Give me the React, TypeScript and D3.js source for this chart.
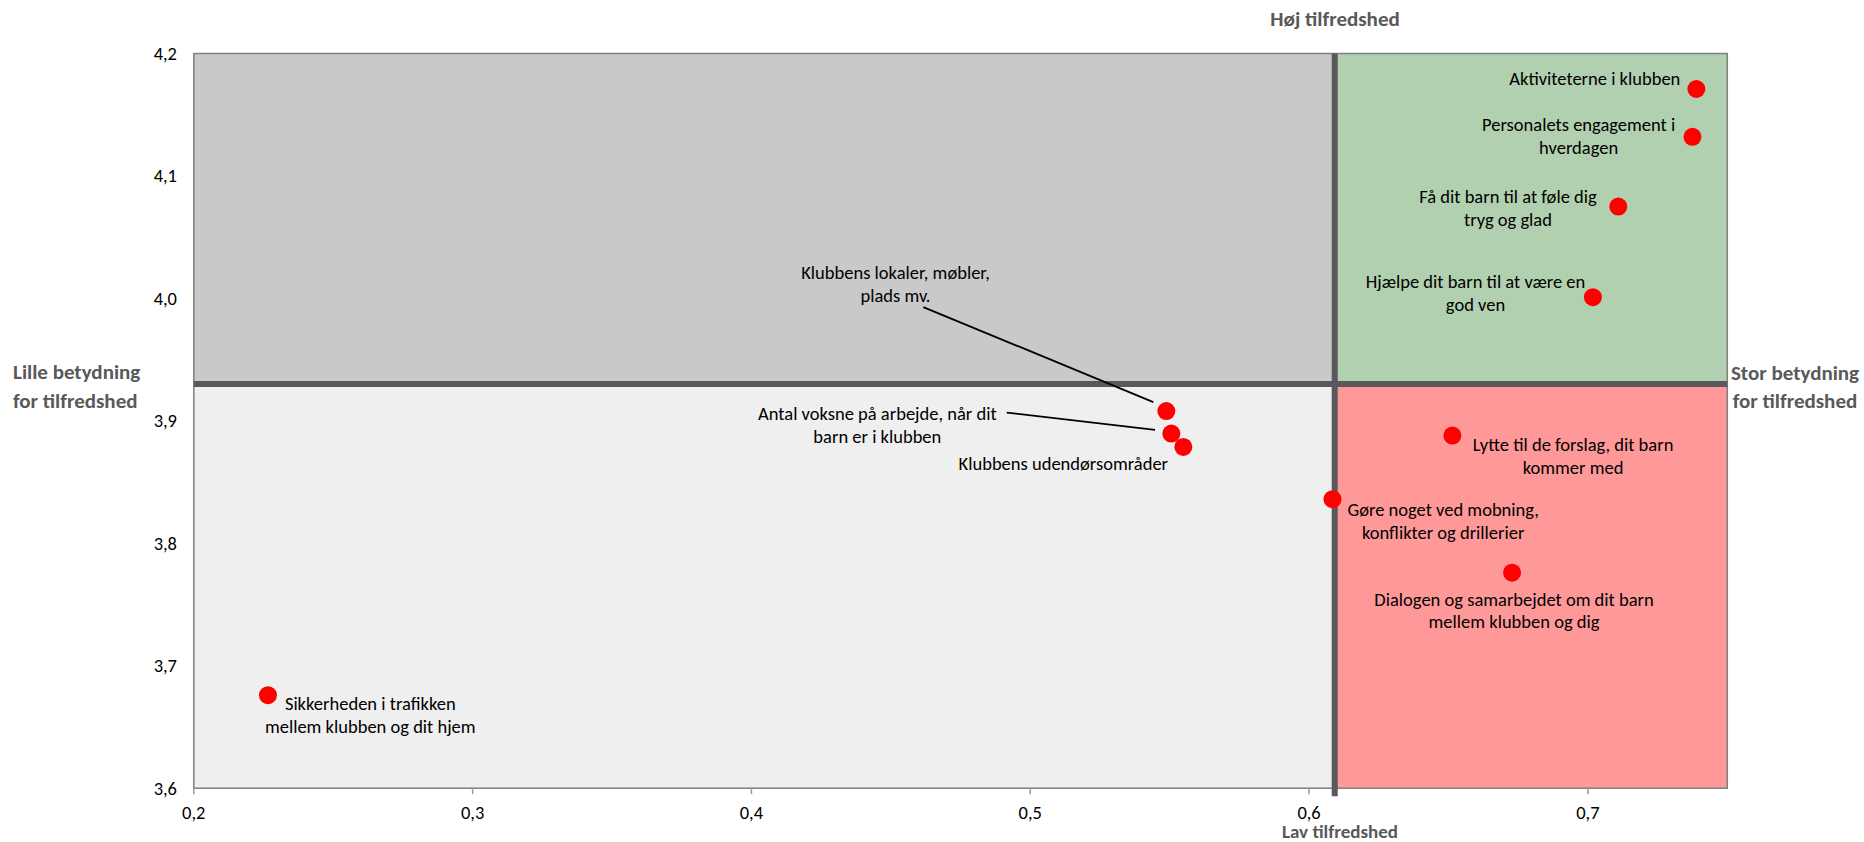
import React from "react";
import * as d3 from "d3";

const labels: string[][] = [
  ["Aktiviteterne i klubben"],
  ["Personalets engagement i", "hverdagen"],
  ["Få dit barn til at føle dig", "tryg og glad"],
  ["Hjælpe dit barn til at være en", "god ven"],
  ["Klubbens lokaler, møbler,", "plads mv."],
  ["Antal voksne på arbejde, når dit", "barn er i klubben"],
  ["Klubbens udendørsområder"],
  ["Lytte til de forslag, dit barn", "kommer med"],
  ["Gøre noget ved mobning,", "konflikter og drillerier"],
  ["Dialogen og samarbejdet om dit barn", "mellem klubben og dig"],
  ["Sikkerheden i trafikken", "mellem klubben og dit hjem"],
];
const importance: number[] = [0.7389, 0.7375, 0.7109, 0.7018, 0.5488, 0.5506, 0.5549, 0.6514, 0.6084, 0.6728, 0.2266];
const satisfaction: number[] = [4.171, 4.132, 4.075, 4.001, 3.908, 3.8896, 3.8787, 3.888, 3.836, 3.776, 3.676];

// label placement relative to each dot (px): [dx, dy]
const labelOffsets: [number, number][] = [
  [-101.5, -10.7],
  [-113.8, -12.7],
  [-110.3, -10.3],
  [-117.4, -16],
  [-270.8, -139],
  [-294, -20.4],
  [-120, 16.3],
  [120.7, 8.3],
  [110.7, 9.7],
  [2, 26],
  [102.3, 8.3],
];
// leader lines: index, start offset, end offset (relative to dot)
const leaders: { i: number; from: [number, number]; to: [number, number] }[] = [
  { i: 4, from: [-243, -104], to: [-13, -9] },
  { i: 5, from: [-164.6, -21], to: [-16.3, -3.7] },
];

const xDomain: [number, number] = [0.2, 0.75];
const yDomain: [number, number] = [3.6, 4.2];
const xTicks: number[] = [0.2, 0.3, 0.4, 0.5, 0.6, 0.7];
const yTicks: number[] = [3.6, 3.7, 3.8, 3.9, 4.0, 4.1, 4.2];
const xSplit = 0.6092;
const ySplit = 3.930;

const topTitle = "Høj tilfredshed";
const bottomTitle = "Lav tilfredshed";
const leftTitle = ["Lille betydning", "for tilfredshed"];
const rightTitle = ["Stor betydning", "for tilfredshed"];

const FONT = "Carlito, Calibri, Lato, 'Open Sans', sans-serif";

export default function App() {
  const W = 1864, H = 842;
  const left = 193.8, right = 1727.3, top = 53.5, bottom = 788.2;
  const x = d3.scaleLinear().domain(xDomain).range([left, right]);
  const y = d3.scaleLinear().domain(yDomain).range([bottom, top]);
  const fmt = (v: number) => d3.format(".1f")(v).replace(".", ",");
  const xs = x(xSplit), ys = y(ySplit);
  const lh = 22.7;

  return (
    <svg width={W} height={H} style={{ position: "absolute", left: 0, top: 0 }} fontFamily={FONT}>
      <rect x={0} y={0} width={W} height={H} fill="#fff" />
      {/* quadrants */}
      <rect x={left} y={top} width={xs - left} height={ys - top} fill="#C9C9C9" />
      <rect x={left} y={ys} width={xs - left} height={bottom - ys} fill="#EFEFEF" />
      <rect x={xs} y={top} width={right - xs} height={ys - top} fill="#B1D0AF" />
      <rect x={xs} y={ys} width={right - xs} height={bottom - ys} fill="#FF9999" />
      <rect x={left} y={top} width={right - left} height={bottom - top} fill="none" stroke="#7F7F7F" strokeWidth={1.5} />
      {/* split lines */}
      <line x1={left} x2={right} y1={ys} y2={ys} stroke="#5A585C" strokeWidth={6} />
      <line x1={xs} x2={xs} y1={top} y2={bottom + 8} stroke="#5A585C" strokeWidth={6} />
      {/* x ticks */}
      {xTicks.map((t) => (
        <g key={"xt" + t}>
          <line x1={x(t)} x2={x(t)} y1={bottom} y2={bottom + 6} stroke="#999" strokeWidth={1.5} />
          <text x={x(t)} y={812.5} textAnchor="middle" dominantBaseline="central" fontSize={18.5} fill="#000">
            {fmt(t)}
          </text>
        </g>
      ))}
      {yTicks.map((t) => (
        <text key={"yt" + t} x={177} y={y(t)} textAnchor="end" dominantBaseline="central" fontSize={18.5} fill="#000">
          {fmt(t)}
        </text>
      ))}
      {/* leaders */}
      {leaders.map((l) => {
        const cx = x(importance[l.i]), cy = y(satisfaction[l.i]);
        return (
          <line key={"ld" + l.i} x1={cx + l.from[0]} y1={cy + l.from[1]} x2={cx + l.to[0]} y2={cy + l.to[1]} stroke="#000" strokeWidth={1.8} />
        );
      })}
      {/* points */}
      {importance.map((v, i) => (
        <circle key={"p" + i} cx={x(v)} cy={y(satisfaction[i])} r={9} fill="#FF0000" />
      ))}
      {/* labels */}
      {labels.map((ls, i) => {
        const cx = x(importance[i]) + labelOffsets[i][0];
        const cy = y(satisfaction[i]) + labelOffsets[i][1];
        return (
          <text key={"l" + i} textAnchor="middle" dominantBaseline="central" fontSize={18.5} fill="#000">
            {ls.map((s, k) => (
              <tspan key={k} x={cx} y={cy + k * lh}>
                {s}
              </tspan>
            ))}
          </text>
        );
      })}
      {/* axis titles */}
      <text x={1335} y={19} textAnchor="middle" dominantBaseline="central" fontSize={21} fontWeight="bold" fill="#595959">
        {topTitle}
      </text>
      <text x={1340} y={831.5} textAnchor="middle" dominantBaseline="central" fontSize={19} fontWeight="bold" fill="#595959">
        {bottomTitle}
      </text>
      {leftTitle.map((s, k) => (
        <text key={"lt" + k} x={13} y={371.7 + k * 29} dominantBaseline="central" fontSize={21} fontWeight="bold" fill="#595959">
          {s}
        </text>
      ))}
      {rightTitle.map((s, k) => (
        <text key={"rt" + k} x={1795} y={373.3 + k * 28} textAnchor="middle" dominantBaseline="central" fontSize={21} fontWeight="bold" fill="#595959">
          {s}
        </text>
      ))}
    </svg>
  );
}
